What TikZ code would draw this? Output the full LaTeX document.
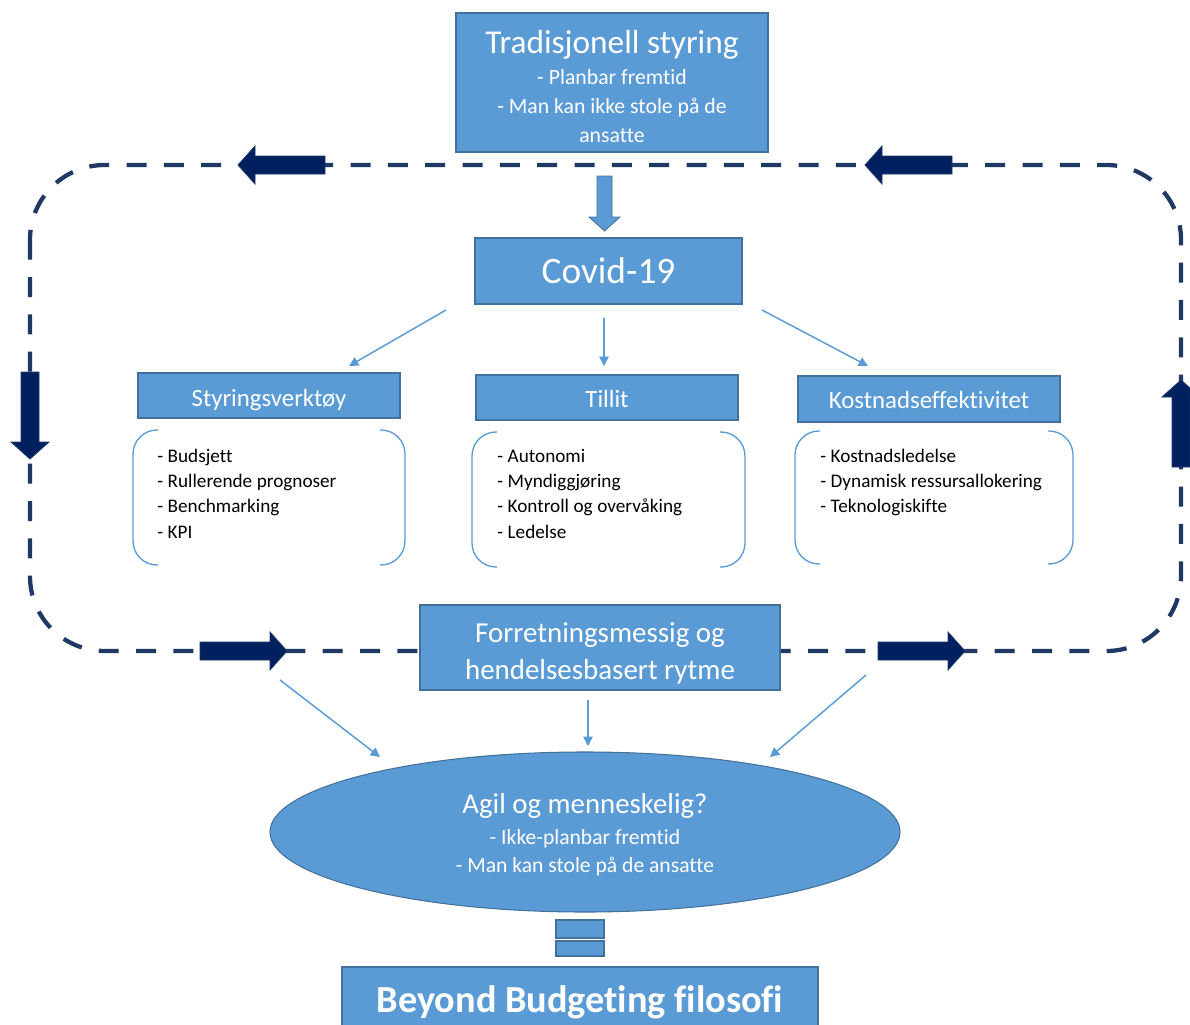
\documentclass[tikz,border=0pt]{standalone}
\usepackage{fontspec}
\setmainfont{Carlito}[Ligatures=NoCommon]
\usetikzlibrary{arrows.meta,positioning,shapes.geometric}
\definecolor{blaa}{HTML}{5B9BD5}
\definecolor{blaakant}{HTML}{41719C}
\definecolor{marine}{HTML}{1F3864}
\definecolor{morkblaa}{HTML}{002060}
\tikzset{
  boks/.style={draw=blaakant,fill=blaa,text=white,inner sep=2pt,align=center,line width=0.8pt},
  tynnpil/.style={-{Triangle[length=7pt,width=7pt]},draw=blaa,line width=1.1pt},
  sloyfe/.style={draw=marine,line width=3.2pt,dash pattern=on 15pt off 13pt,rounded corners=56pt},
  klamme/.style={draw=blaa,line width=1pt,rounded corners=18pt},
  liste/.style={anchor=base west,align=left,text width=200pt,inner sep=0pt,
                font=\fontsize{14.4}{19}\selectfont,execute at begin node=\spaceskip3.4pt\relax},
  blokkpil/.pic={\fill[morkblaa,draw=marine,line width=0.6pt]
    (0,-9) -- (70,-9) -- (70,-19) -- (87,0) -- (70,19) -- (70,9) -- (0,9) -- cycle;},
}

\begin{document}
\begin{tikzpicture}[x=0.75pt,y=-0.75pt]
  \useasboundingbox (0,0) rectangle (1190,1025);
  % sloyfa rundt midten
  \draw[sloyfe] (30,165) rectangle (1181,651);

  \node[boks,minimum width=234pt,minimum height=104.25pt,font=\fontsize{16.3}{21.5}\selectfont] (trad) at (612,82.5)
    {{\fontsize{25}{30}\selectfont\rule{0pt}{23pt}Tradisjonell styring}\\[2.25pt]- Planbar fremtid\\- Man kan ikke stole på de\\ansatte};
  \node[boks,minimum width=200.25pt,minimum height=49.5pt,font=\fontsize{28}{34}\selectfont] (covid) at (608.5,271) {Covid-19};
  \filldraw[fill=blaa,draw=blaakant,line width=0.6pt]
    (597,176) -- (612,176) -- (612,217) -- (620,217) -- (604.5,231) -- (589,217) -- (597,217) -- cycle;

  \node[boks,minimum width=196.5pt,minimum height=33.75pt,font=\fontsize{18.6}{22}\selectfont] (styr) at (269,395.5) {\rule{0pt}{20pt}Styringsverktøy};
  \node[boks,minimum width=196.5pt,minimum height=33.75pt,font=\fontsize{18.6}{22}\selectfont] (tillit) at (607,397.5) {\rule{0pt}{15pt}Tillit};
  \node[boks,minimum width=196.5pt,minimum height=34.5pt,font=\fontsize{18.6}{22}\selectfont] (kost) at (929,399) {\rule{0pt}{15pt}Kostnadseffektivitet};

  % klammer
  \draw[klamme] (158,430) -- (133,430) -- (133,565) -- (158,565);
  \draw[klamme] (380,430) -- (405,430) -- (405,565) -- (380,565);
  \draw[klamme] (497,432) -- (472,432) -- (472,567) -- (497,567);
  \draw[klamme] (720,432) -- (745,432) -- (745,567) -- (720,567);
  \draw[klamme] (820,431) -- (795,431) -- (795,564) -- (820,564);
  \draw[klamme] (1048,431) -- (1073,431) -- (1073,564) -- (1048,564);

  \node[liste] (styrliste) at (157,462) {- Budsjett\\- Rullerende prognoser\\- Benchmarking\\- KPI};
  \node[liste] (tillitliste) at (497,462) {- Autonomi\\- Myndiggjøring\\- Kontroll og overvåking\\- Ledelse};
  \node[liste] (kostliste) at (820,462) {- Kostnadsledelse\\- Dynamisk ressursallokering\\- Teknologiskifte};

  \node[boks,minimum width=270pt,minimum height=63.75pt,font=\fontsize{21.7}{27.75}\selectfont] (forr) at (600,647.5)
    {\rule{0pt}{23.5pt}Forretningsmessig og\\hendelsesbasert rytme};

  \node[boks,ellipse,minimum width=472.5pt,minimum height=120pt,font=\fontsize{16.2}{21}\selectfont] (agil) at (585,832)
    {{\fontsize{21.6}{26}\selectfont\rule{0pt}{19pt}Agil og menneskelig?}\\[2pt]- Ikke-planbar fremtid\\- Man kan stole på de ansatte};
  \node[boks,minimum width=36pt,minimum height=13.5pt,inner sep=0pt] (lik1) at (580,929) {};
  \node[boks,minimum width=36pt,minimum height=11.25pt,inner sep=0pt] (lik2) at (580,948.5) {};
  \node[boks,minimum width=357pt,minimum height=52.5pt,font=\bfseries\fontsize{28.7}{34}\selectfont] (beyond) at (580,1002)
    {Beyond Budgeting filosofi};

  % tynne piler
  \coordinate (covidV) at (446,310);
  \coordinate (covidM) at (604,318);
  \coordinate (covidH) at (762,310);
  \coordinate (tilStyr) at (349,366);
  \coordinate (tilTillit) at (604,366);
  \coordinate (tilKost) at (868,366);
  \draw[tynnpil] (covidV) -- (tilStyr);
  \draw[tynnpil] (covidM) -- (tilTillit);
  \draw[tynnpil] (covidH) -- (tilKost);
  \coordinate (forrV) at (280,680);
  \coordinate (forrM) at (588,700);
  \coordinate (forrH) at (866,675);
  \coordinate (agilV) at (380,757);
  \coordinate (agilM) at (588,746);
  \coordinate (agilH) at (770,757);
  \draw[tynnpil] (forrV) -- (agilV);
  \draw[tynnpil] (forrM) -- (agilM);
  \draw[tynnpil] (forrH) -- (agilH);

  % blokkpiler paa sloyfa
  \pic[rotate=180] at (325,165) {blokkpil};
  \pic[rotate=180] at (952,165) {blokkpil};
  \pic at (200,651) {blokkpil};
  \pic at (878,651) {blokkpil};
  \pic[rotate=-90] at (30,372) {blokkpil};
  \pic[rotate=90] at (1181,467) {blokkpil};
\end{tikzpicture}
\end{document}
